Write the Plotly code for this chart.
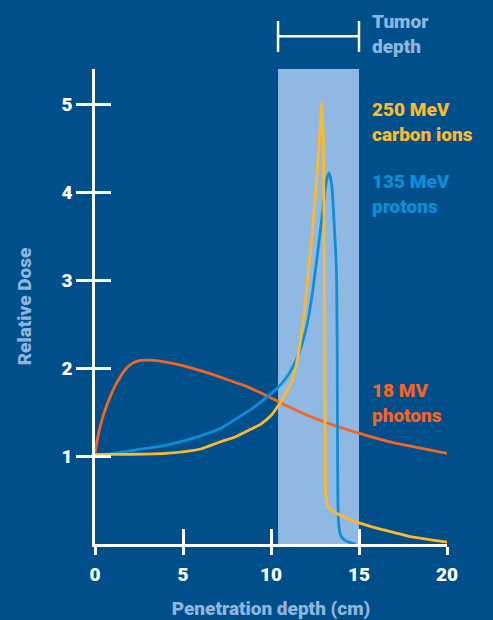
import plotly.graph_objects as go

# ---- data ----
photon_x = [0, 0.25, 0.5, 0.85, 1.2, 1.5, 1.8, 2.1, 2.4, 3.0, 3.7, 4.5, 5.5, 6.5, 7.5, 8.5, 9.4, 10, 11, 12, 13, 14, 15, 16, 17, 18, 19, 20]
photon_y = [1.04, 1.3, 1.48, 1.67, 1.82, 1.92, 2.0, 2.05, 2.08, 2.09, 2.08, 2.05, 2.0, 1.94, 1.87, 1.8, 1.72, 1.66, 1.56, 1.47, 1.39, 1.32, 1.26, 1.2, 1.15, 1.11, 1.07, 1.03]

proton_x = [0, 1, 2, 3, 3.7, 5, 6, 7.1, 8, 9, 9.4, 10, 10.5, 11, 11.5, 12, 12.3, 12.6, 12.95, 13.15, 13.3, 13.45, 13.6, 13.72, 13.76, 13.78, 13.8, 13.85, 13.95, 14.2, 14.5, 14.8]
proton_y = [1.0, 1.03, 1.06, 1.09, 1.11, 1.17, 1.23, 1.31, 1.42, 1.55, 1.61, 1.71, 1.8, 1.93, 2.12, 2.45, 2.78, 3.23, 3.8, 4.13, 4.22, 4.08, 3.6, 3.1, 2.2, 1.2, 0.5, 0.22, 0.1, 0.04, 0.015, 0.0]

carbon_x = [0, 2, 4, 6, 7.1, 8, 9, 9.4, 10, 10.5, 11, 11.2, 11.5, 11.8, 12.2, 12.5, 12.75, 12.9, 12.97, 13.03, 13.06, 13.08, 13.12, 13.25, 13.5, 14, 15, 16, 17, 18, 19, 20]
carbon_y = [1.02, 1.02, 1.03, 1.08, 1.16, 1.22, 1.32, 1.36, 1.46, 1.6, 1.77, 1.86, 2.1, 2.5, 3.23, 3.9, 4.6, 5.02, 4.6, 3.2, 2.0, 1.0, 0.55, 0.43, 0.38, 0.32, 0.24, 0.18, 0.13, 0.08, 0.05, 0.02]

x_ticks = [0, 5, 10, 15, 20]
y_ticks = [1, 2, 3, 4, 5]
tumor_start, tumor_end = 10.4, 15.0
x_range = [0, 20]
y_range = [0, 5.4]

BG = "#004e8a"
WHITE = "#ffffff"
LIGHT = "#8db6df"
YELLOW = "#fdb92e"
BLUE = "#0e8fd5"
ORANGE = "#f26522"
RECT = "#8fb9e3"
FONT = "Roboto"
W = 900

fig = go.Figure()
fig.add_trace(go.Scatter(x=photon_x, y=photon_y, mode="lines", line=dict(color=ORANGE, width=2.8, shape="spline", smoothing=0.6), hoverinfo="skip"))
fig.add_trace(go.Scatter(x=proton_x, y=proton_y, mode="lines", line=dict(color=BLUE, width=2.8, shape="spline", smoothing=0.6), hoverinfo="skip"))
fig.add_trace(go.Scatter(x=carbon_x, y=carbon_y, mode="lines", line=dict(color=YELLOW, width=2.8, shape="spline", smoothing=0.6), hoverinfo="skip"))
# dummy trace for overlay axes (inner ticks)
fig.add_trace(go.Scatter(x=[None], y=[None], xaxis="x2", yaxis="y2", hoverinfo="skip"))

# tumor region
fig.add_shape(type="rect", xref="x", yref="y", x0=tumor_start, x1=tumor_end, y0=y_range[0], y1=y_range[1],
              fillcolor=RECT, line=dict(width=0), layer="below")
# tumor depth bracket
br_y = 1.069
for xv in (tumor_start, tumor_end):
    fig.add_shape(type="line", xref="x", yref="paper", x0=xv, x1=xv, y0=1.036, y1=1.101, line=dict(color=WHITE, width=2.5))
fig.add_shape(type="line", xref="x", yref="paper", x0=tumor_start, x1=tumor_end, y0=br_y, y1=br_y, line=dict(color=WHITE, width=2.5))

def label(text, y, color):
    fig.add_annotation(x=15.63, xref="x", y=y, yref="paper", text=text, showarrow=False,
                       xanchor="left", yanchor="middle", align="left",
                       font=dict(family=FONT, size=19, color=color, weight=W))

label("Tumor<br>depth", 1 + (69 - 34) / 475, LIGHT)
label("250 MeV<br>carbon ions", 1 - (122 - 69) / 475, YELLOW)
label("135 MeV<br>protons", 1 - (194 - 69) / 475, BLUE)
label("18 MV<br>photons", 1 - (403 - 69) / 475, ORANGE)

tickfont = dict(family=FONT, size=19, color=WHITE, weight=W)
titlefont = dict(family=FONT, size=19, color=LIGHT, weight=W)

fig.update_layout(
    width=493, height=620,
    margin=dict(l=95, r=46, t=69, b=76, autoexpand=False),
    paper_bgcolor=BG, plot_bgcolor=BG,
    showlegend=False,
    xaxis=dict(range=x_range, tickvals=x_ticks, ticktext=[str(v) for v in x_ticks], ticks="outside", ticklen=8,
               tickwidth=2.5, tickcolor=WHITE, showline=True, linecolor=WHITE, linewidth=2.5,
               showgrid=False, zeroline=False, tickfont=tickfont, ticklabelstandoff=3, automargin=False,
               title=dict(text="Penetration depth (cm)", font=titlefont, standoff=32)),
    yaxis=dict(range=y_range, tickvals=y_ticks, ticktext=[str(v) for v in y_ticks], ticks="outside", ticklen=16,
               tickwidth=2.5, tickcolor=WHITE, showline=True, linecolor=WHITE, linewidth=2.5,
               showgrid=False, zeroline=False, tickfont=tickfont, ticklabelstandoff=0, automargin=False,
               title=dict(text="Relative Dose", font=titlefont, standoff=25)),
    xaxis2=dict(range=x_range, overlaying="x", anchor="y", side="bottom", tickvals=x_ticks[1:], ticks="inside", ticklen=15,
                tickwidth=2.5, tickcolor=WHITE, showticklabels=False, showline=False, showgrid=False, zeroline=False,
                automargin=False),
    yaxis2=dict(range=y_range, overlaying="y", anchor="x", side="left", tickvals=y_ticks, ticks="inside", ticklen=16,
                tickwidth=2.5, tickcolor=WHITE, showticklabels=False, showline=False, showgrid=False, zeroline=False,
                automargin=False),
)

fig.write_html("out.html", config={"displayModeBar": False},
               post_script="document.body.style.margin='0';document.body.style.background='%s';" % BG)
